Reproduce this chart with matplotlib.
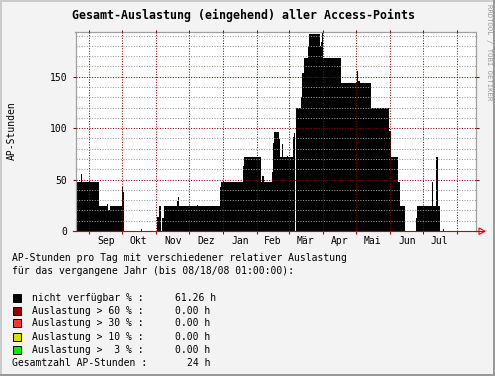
import matplotlib
matplotlib.use("Agg")
import matplotlib.pyplot as plt
import matplotlib.dates as mdates
from matplotlib.ticker import MultipleLocator, FixedLocator, FixedFormatter, NullFormatter
from matplotlib.patches import Rectangle, Polygon
from matplotlib.lines import Line2D
from datetime import datetime

# ---------------- data ----------------
seg_dates = [
    "2007-08-19", "2007-08-24", "2007-08-25", "2007-09-10", "2007-09-17",
    "2007-09-18", "2007-09-20", "2007-10-01", "2007-10-02", "2007-10-03",
    "2007-10-18", "2007-10-19", "2007-11-02", "2007-11-03", "2007-11-05",
    "2007-11-06", "2007-11-08", "2007-11-20", "2007-11-21", "2007-11-22",
    "2007-12-08", "2007-12-09", "2007-12-29", "2007-12-30", "2008-01-19",
    "2008-01-20", "2008-02-04", "2008-02-05", "2008-02-07", "2008-02-14",
    "2008-02-15", "2008-02-16", "2008-02-21", "2008-02-22", "2008-02-23",
    "2008-02-24", "2008-02-28", "2008-02-29", "2008-03-04", "2008-03-05",
    "2008-03-06", "2008-03-07", "2008-03-12", "2008-03-13", "2008-03-14",
    "2008-03-18", "2008-03-19", "2008-03-29", "2008-03-30", "2008-03-31",
    "2008-04-01", "2008-04-17", "2008-05-02", "2008-05-03", "2008-05-04",
    "2008-05-14", "2008-05-31", "2008-06-02", "2008-06-08", "2008-06-10",
    "2008-06-14", "2008-06-24", "2008-06-25", "2008-07-09", "2008-07-10",
    "2008-07-13", "2008-07-14", "2008-07-16", "2008-07-19", "2008-07-20",
]
seg_values = [
    48, 55, 48, 24, 26,
    20, 24, 43, 38, 0,
    2, 0, 14, 24, 0,
    13, 24, 29, 33, 24,
    25, 24, 43, 48, 63,
    72, 48, 53, 48, 57,
    86, 96, 89, 72, 85,
    72, 73, 72, 91, 95,
    0, 120, 130, 154, 168,
    180, 192, 180, 184, 200,
    168, 144, 156, 146, 144,
    120, 97, 72, 48, 24,
    0, 13, 24, 48, 24,
    72, 24, 0, 1.5, 0,
]
end_date = "2008-08-18"

month_names = ["Sep", "Okt", "Nov", "Dez", "Jan", "Feb", "Mär", "Apr", "Mai", "Jun", "Jul"]
month_label_dates = ["2007-09-16", "2007-10-16", "2007-11-16", "2007-12-16", "2008-01-16",
                     "2008-02-15", "2008-03-16", "2008-04-16", "2008-05-16", "2008-06-16",
                     "2008-07-16"]

title = "Gesamt-Auslastung (eingehend) aller Access-Points"
ylabel = "AP-Stunden"
comment_lines = ["AP-Stunden pro Tag mit verschiedener relativer Auslastung",
                 "für das vergangene Jahr (bis 08/18/08 01:00:00):"]
legend_labels = ["nicht verfügbar % :", "Auslastung > 60 % :", "Auslastung > 30 % :",
                 "Auslastung > 10 % :", "Auslastung >  3 % :"]
legend_values = ["61.26 h", "0.00 h", "0.00 h", "0.00 h", "0.00 h"]
legend_colors = ["#000000", "#990000", "#ff3333", "#dddd00", "#00ee00"]
total_label = "Gesamtzahl AP-Stunden :"
total_value = "24 h"
credit = "RRDTOOL / TOBI OETIKER"

# ---------------- figure ----------------
W, H = 495, 376
BG = "#f3f3f3"
MONO = "DejaVu Sans Mono"
plt.rcParams["font.family"] = [MONO, "DejaVu Sans"]

fig = plt.figure(figsize=(W / 100, H / 100), dpi=100, facecolor=BG)

def fx(x):
    return x / W

def fy(y):
    return 1 - y / H

# outer shading
fig.add_artist(Rectangle((0, fy(2)), 1, 2 / H, transform=fig.transFigure, color="#cbcbcb", lw=0))
fig.add_artist(Rectangle((0, 0), 2 / W, 1, transform=fig.transFigure, color="#cbcbcb", lw=0))
fig.add_artist(Rectangle((0, 0), 1, 2 / H, transform=fig.transFigure, color="#999999", lw=0))
fig.add_artist(Rectangle((fx(W - 2), 0), 2 / W, 1, transform=fig.transFigure, color="#999999", lw=0))

L, R, T, B = 75.5, 475.5, 31.5, 231.0
ax = fig.add_axes([fx(L), fy(B), (R - L) / W, (B - T) / H])
ax.set_facecolor("white")

xs = [datetime.strptime(d, "%Y-%m-%d") for d in seg_dates] + [datetime.strptime(end_date, "%Y-%m-%d")]
ys = list(seg_values) + [seg_values[-1]]
ax.fill_between(xs, ys, step="post", color="black", lw=0, zorder=1)

ax.set_xlim(datetime(2007, 8, 19, 10), datetime(2008, 8, 17, 14))
ax.set_ylim(0, 194)

GRID = "#9a9a9a"
MGRID = "#8b0000"
dot = (0, (1, 1.5))

ax.set_axisbelow(False)
ax.yaxis.set_major_locator(MultipleLocator(50))
ax.yaxis.set_minor_locator(MultipleLocator(10))
ax.xaxis.set_major_locator(mdates.MonthLocator())
ax.xaxis.set_major_formatter(NullFormatter())
ax.xaxis.set_minor_locator(FixedLocator(mdates.date2num(
    [datetime.strptime(d, "%Y-%m-%d") for d in month_label_dates])))
ax.xaxis.set_minor_formatter(FixedFormatter(month_names))

ax.grid(which="minor", axis="y", color=GRID, linestyle=dot, linewidth=0.75)
ax.grid(which="major", axis="y", color=MGRID, linestyle=dot, linewidth=0.75)
ax.grid(which="major", axis="x", color=MGRID, linestyle=dot, linewidth=0.75)

ax.tick_params(axis="x", which="major", top=True, bottom=True, direction="out",
               length=1.8, width=0.75, color=MGRID)
ax.tick_params(axis="x", which="minor", length=0, pad=3.6, labelsize=7)
ax.tick_params(axis="y", which="major", left=True, right=True, direction="out",
               length=2.2, width=0.75, color=MGRID, pad=3.6, labelsize=7)
ax.tick_params(axis="y", which="minor", length=0)

for s in ("top", "left", "right"):
    ax.spines[s].set_color("#a0a0a0")
    ax.spines[s].set_linewidth(0.9)
ax.spines["bottom"].set_visible(False)

# red x axis with arrow
fig.add_artist(Line2D([fx(72.7), fx(484)], [fy(B), fy(B)], color="#cc0000", lw=0.8))
fig.add_artist(Polygon([(fx(479), fy(228)), (fx(479), fy(234.5)), (fx(485), fy(231.2))],
                       closed=True, fill=False, edgecolor="#ff0000", lw=0.8,
                       transform=fig.transFigure))

# texts
fig.text(fx(244), fy(19), title, ha="center", va="baseline", fontsize=8.4,
         fontweight="bold", family=[MONO, "DejaVu Sans"])
fig.text(fx(12), fy(131), ylabel, ha="center", va="center", rotation=90, fontsize=7)
fig.text(fx(488.5), fy(4), credit, ha="center", va="top", rotation=270,
         fontsize=5.2, color="#999999")

fig.text(fx(12.3), fy(260.7), comment_lines[0], ha="left", va="baseline", fontsize=7)
fig.text(fx(12.3), fy(274.3), comment_lines[1], ha="left", va="baseline", fontsize=7)

row_base = [300.7, 313.7, 326.3, 339.7, 352.7]
for base, lab, val, col in zip(row_base, legend_labels, legend_values, legend_colors):
    fig.add_artist(Rectangle((fx(12.5), fy(base + 1)), 8 / W, 8 / H, transform=fig.transFigure,
                             facecolor=col, edgecolor="black", lw=0.7))
    fig.text(fx(32.3), fy(base), lab, ha="left", va="baseline", fontsize=7)
    fig.text(fx(175), fy(base), val, ha="left", va="baseline", fontsize=7)
fig.text(fx(12.3), fy(365.7), total_label, ha="left", va="baseline", fontsize=7)
fig.text(fx(186.7), fy(365.7), total_value, ha="left", va="baseline", fontsize=7)

fig.savefig("out.png", dpi=100, facecolor=BG)
